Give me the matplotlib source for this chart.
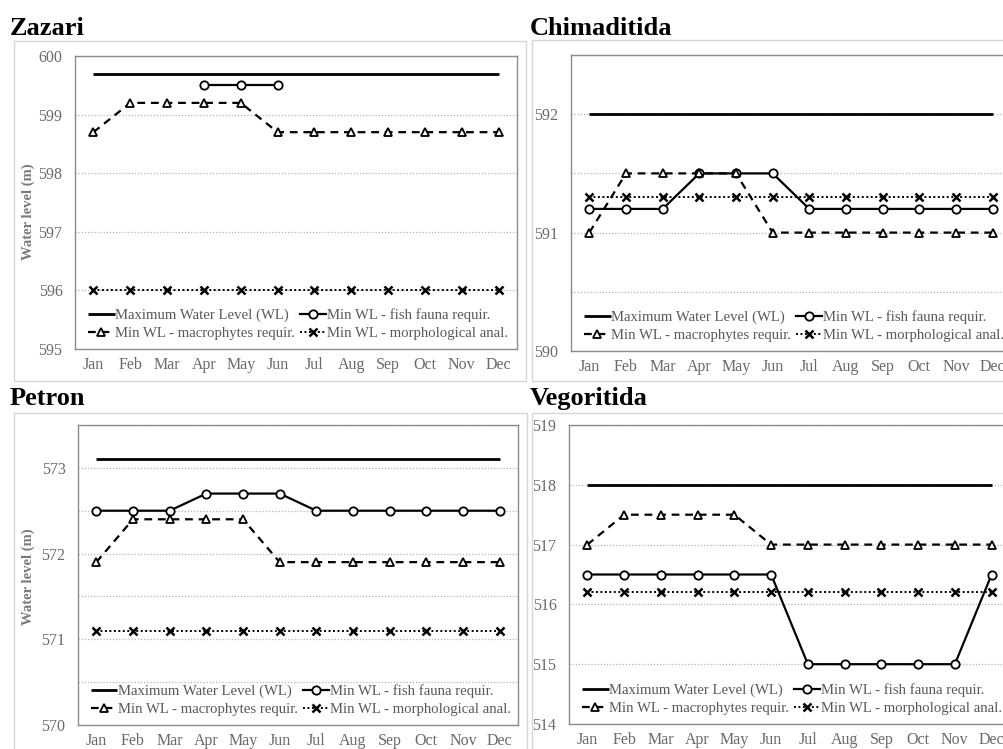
import numpy as np
import matplotlib.pyplot as plt
from matplotlib.patches import Rectangle
from matplotlib.ticker import MultipleLocator

plt.rcParams['font.family'] = ['Liberation Serif', 'DejaVu Serif']

W, H = 1004, 749
nan = np.nan

months = ['Jan', 'Feb', 'Mar', 'Apr', 'May', 'Jun',
          'Jul', 'Aug', 'Sep', 'Oct', 'Nov', 'Dec']

# Zazari
zaz_max = [599.7, 599.7, 599.7, 599.7, 599.7, 599.7, 599.7, 599.7, 599.7, 599.7, 599.7, 599.7]
zaz_fish = [nan, nan, nan, 599.5, 599.5, 599.5, nan, nan, nan, nan, nan, nan]
zaz_macro = [598.7, 599.2, 599.2, 599.2, 599.2, 598.7, 598.7, 598.7, 598.7, 598.7, 598.7, 598.7]
zaz_morph = [596.0, 596.0, 596.0, 596.0, 596.0, 596.0, 596.0, 596.0, 596.0, 596.0, 596.0, 596.0]

# Chimaditida
chi_max = [592.0, 592.0, 592.0, 592.0, 592.0, 592.0, 592.0, 592.0, 592.0, 592.0, 592.0, 592.0]
chi_fish = [591.2, 591.2, 591.2, 591.5, 591.5, 591.5, 591.2, 591.2, 591.2, 591.2, 591.2, 591.2]
chi_macro = [591.0, 591.5, 591.5, 591.5, 591.5, 591.0, 591.0, 591.0, 591.0, 591.0, 591.0, 591.0]
chi_morph = [591.3, 591.3, 591.3, 591.3, 591.3, 591.3, 591.3, 591.3, 591.3, 591.3, 591.3, 591.3]

# Petron
pet_max = [573.1, 573.1, 573.1, 573.1, 573.1, 573.1, 573.1, 573.1, 573.1, 573.1, 573.1, 573.1]
pet_fish = [572.5, 572.5, 572.5, 572.7, 572.7, 572.7, 572.5, 572.5, 572.5, 572.5, 572.5, 572.5]
pet_macro = [571.9, 572.4, 572.4, 572.4, 572.4, 571.9, 571.9, 571.9, 571.9, 571.9, 571.9, 571.9]
pet_morph = [571.1, 571.1, 571.1, 571.1, 571.1, 571.1, 571.1, 571.1, 571.1, 571.1, 571.1, 571.1]

# Vegoritida
veg_max = [518.0, 518.0, 518.0, 518.0, 518.0, 518.0, 518.0, 518.0, 518.0, 518.0, 518.0, 518.0]
veg_fish = [516.5, 516.5, 516.5, 516.5, 516.5, 516.5, 515.0, 515.0, 515.0, 515.0, 515.0, 516.5]
veg_macro = [517.0, 517.5, 517.5, 517.5, 517.5, 517.0, 517.0, 517.0, 517.0, 517.0, 517.0, 517.0]
veg_morph = [516.2, 516.2, 516.2, 516.2, 516.2, 516.2, 516.2, 516.2, 516.2, 516.2, 516.2, 516.2]

labels = ['Maximum Water Level (WL)', 'Min WL - fish fauna requir.',
          'Min WL - macrophytes requir.', 'Min WL - morphological anal.']

grey_txt = '#6a6a6a'


def box(l, t, r, b):
    # pixel box -> figure fraction [x, y, w, h]
    return [l / W, 1 - b / H, (r - l) / W, (b - t) / H]


def panel(fig, rect, frame, title, tpos, series, ylim, minor, ylab=None):
    fl, ft, fr, fb = frame
    fig.patches.append(Rectangle((fl / W, 1 - fb / H), (fr - fl) / W, (fb - ft) / H,
                                 transform=fig.transFigure, fill=False,
                                 edgecolor='#d6d6d6', lw=1.0, zorder=0))
    fig.text(tpos[0] / W, 1 - tpos[1] / H, title, fontsize=19, fontweight='bold',
             va='baseline', ha='left')
    ax = fig.add_axes(box(*rect))
    x = np.arange(12)
    mx, fish, macro, morph = series
    h1, = ax.plot(x, mx, color='black', lw=2.0, solid_capstyle='butt')
    h2, = ax.plot(x, fish, color='black', lw=1.6, marker='o', ms=6,
                  mfc='white', mec='black', mew=1.3)
    h3, = ax.plot(x, macro, color='black', lw=1.6, ls=(0, (3.5, 2.6)),
                  marker='^', ms=6, mfc='white', mec='black', mew=1.3)
    h4, = ax.plot(x, morph, color='black', lw=1.4, ls=(0, (1, 1.3)),
                  marker='x', ms=6, mec='black', mew=1.8)
    ax.set_xlim(-0.5, 11.5)
    ax.set_ylim(*ylim)
    ax.set_xticks(x)
    ax.set_xticklabels(months)
    ax.yaxis.set_major_locator(MultipleLocator(1))
    if minor:
        ax.yaxis.set_minor_locator(MultipleLocator(0.5))
        ax.grid(axis='y', which='minor', color='#b5b5b5', ls=(0, (1, 1.5)), lw=0.9)
    ax.grid(axis='y', which='major', color='#b5b5b5', ls=(0, (1, 1.5)), lw=0.9)
    ax.set_axisbelow(True)
    ax.tick_params(axis='both', which='both', length=0, labelsize=11.5,
                   labelcolor=grey_txt)
    ax.tick_params(axis='y', pad=9)
    ax.tick_params(axis='x', pad=6)
    for s in ax.spines.values():
        s.set_color('#8c8c8c')
        s.set_linewidth(1.0)
    pw, ph = rect[2] - rect[0], rect[3] - rect[1]
    leg = ax.legend([h1, h3, h2, h4], [labels[0], labels[2], labels[1], labels[3]],
                    ncol=2, loc='lower left', bbox_to_anchor=(13 / pw, 9 / ph),
                    borderaxespad=0, fontsize=10.6, frameon=True, facecolor='white',
                    edgecolor='none', framealpha=1.0, handlelength=1.8,
                    handletextpad=0.05, columnspacing=0.3, labelspacing=0.32,
                    borderpad=0.0, labelcolor='#595959')
    leg.get_frame().set_linewidth(0)
    if ylab:
        fig.text(ylab[0] / W, 1 - ylab[1] / H, 'Water level (m)', rotation=90,
                 fontsize=10.5, fontweight='bold', color='#7a7a7a',
                 ha='center', va='center')
    return ax


fig = plt.figure(figsize=(W / 100, H / 100), dpi=100)
fig.patch.set_facecolor('white')

panel(fig, (75, 56, 517, 349), (14, 41, 526, 381), 'Zazari', (10, 35),
      (zaz_max, zaz_fish, zaz_macro, zaz_morph), (595, 600), False, ylab=(28, 212))
panel(fig, (571, 55, 1011, 351), (532, 40, 1012, 381), 'Chimaditida', (530, 35),
      (chi_max, chi_fish, chi_macro, chi_morph), (590, 592.5), True)
panel(fig, (78, 425, 518, 725), (14, 413, 527, 760), 'Petron', (10, 405),
      (pet_max, pet_fish, pet_macro, pet_morph), (570, 573.5), True, ylab=(28, 577))
panel(fig, (569, 425, 1010, 724), (532, 413, 1012, 760), 'Vegoritida', (530, 405),
      (veg_max, veg_fish, veg_macro, veg_morph), (514, 519), False)

fig.savefig('out.png', dpi=100, facecolor='white')
